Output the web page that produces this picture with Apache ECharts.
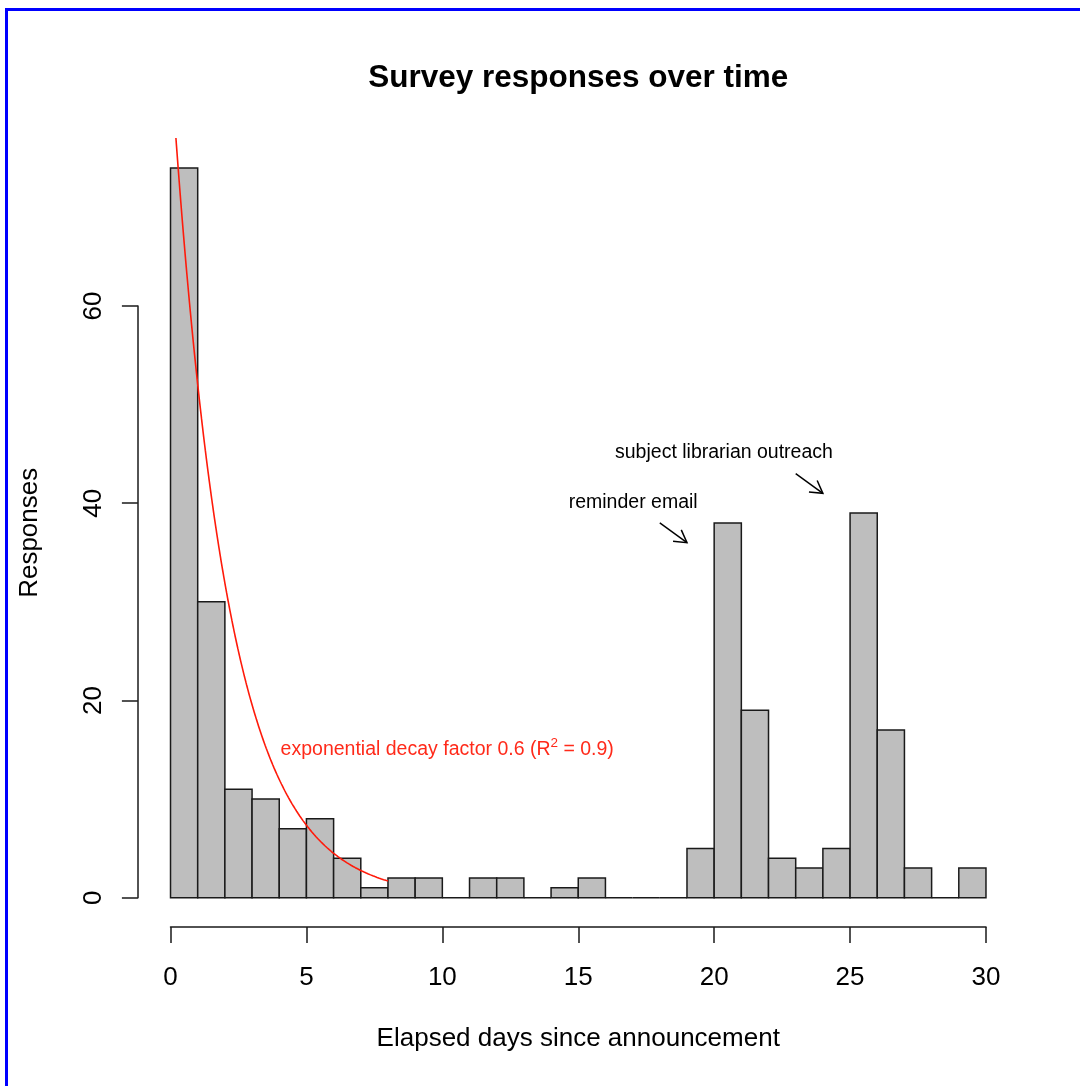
<!DOCTYPE html>
<html>
<head>
<meta charset="utf-8">
<script src="https://cdn.jsdelivr.net/npm/echarts@6/dist/echarts.min.js"></script>
<style>
  html, body { margin: 0; padding: 0; background: #fff; }
  #chart { width: 1080px; height: 1086px; }
</style>
</head>
<body>
<div id="chart"></div>
<script>
// Daily survey responses: one-day bins starting at each day
const binStart = [0, 1, 2, 3, 4, 5, 6, 7, 8, 9, 10, 11, 12, 13, 14, 15, 16, 17, 18, 19, 20, 21, 22, 23, 24, 25, 26, 27, 28, 29];
const counts   = [74, 30, 11, 10, 7, 8, 4, 1, 2, 2, 0, 2, 2, 0, 1, 2, 0, 0, 0, 5, 38, 19, 4, 3, 5, 39, 17, 3, 0, 3];
const binWidth = 1;

// Axis ticks
const xTicks = [0, 5, 10, 15, 20, 25, 30];
const yTicks = [0, 20, 40, 60];

// Exponential fit over the first days after the announcement
const decayFactor = 0.613;
const fitScale = 84.9;
const fitFrom = 0;
const fitTo = 8;
const fitR2 = 0.9;
const fitLabelAt = [4.05, 15.2];

// Event annotations: label position, arrow start, arrow end
const noteTexts = ['reminder email', 'subject librarian outreach'];
const noteLabelAt = [[17.02, 40.1], [20.36, 45.1]];
const noteArrowFrom = [[18, 38], [23, 43]];
const noteArrowTo = [[19, 36], [24, 41]];

const FONT = 'Liberation Sans, Arial, Helvetica, sans-serif';
const INK = '#1a1a1a';

// Plot region in pixels; data ranges padded by 4% on each side
const PLOT = { left: 137.9, right: 1018.6, top: 138.7, bottom: 926.9 };
const W = 1080, H = 1086;
const xLo = xTicks[0], xHi = xTicks[xTicks.length - 1];
const yMaxData = Math.max(...counts);
const xPad = (xHi - xLo) * 0.04, yPad = yMaxData * 0.04;
const xUsr = [xLo - xPad, xHi + xPad];
const yUsr = [0 - yPad, yMaxData + yPad];
const pxX = v => PLOT.left + (v - xUsr[0]) / (xUsr[1] - xUsr[0]) * (PLOT.right - PLOT.left);
const pxY = v => PLOT.bottom - (v - yUsr[0]) / (yUsr[1] - yUsr[0]) * (PLOT.bottom - PLOT.top);

const yTop = yTicks[yTicks.length - 1];

const histData = binStart.map((s, i) => [s, s + binWidth, counts[i]]);

const fitData = [];
for (let k = 0; k <= 400; k++) {
  const x = fitFrom + (fitTo - fitFrom) * k / 400;
  fitData.push([x, fitScale * Math.pow(decayFactor, x)]);
}

const noteData = noteTexts.map((t, i) => [noteLabelAt[i][0], noteLabelAt[i][1], t]);
const arrowData = noteArrowFrom.map((f, i) => [f[0], f[1], noteArrowTo[i][0], noteArrowTo[i][1]]);

const chart = echarts.init(document.getElementById('chart'), null, { renderer: 'canvas' });

chart.setOption({
  backgroundColor: '#fff',
  animation: false,
  textStyle: { fontFamily: FONT },
  grid: [
    // main plotting area
    { left: PLOT.left, top: PLOT.top, width: PLOT.right - PLOT.left, height: PLOT.bottom - PLOT.top,
      containLabel: false, outerBoundsMode: 'none', show: false },
    // x axis drawn only across the tick span
    { left: pxX(xLo), top: PLOT.top, width: pxX(xHi) - pxX(xLo), height: PLOT.bottom - PLOT.top,
      containLabel: false, outerBoundsMode: 'none', show: false },
    // y axis drawn only across the tick span
    { left: PLOT.left, top: pxY(yTop), width: PLOT.right - PLOT.left, height: pxY(0) - pxY(yTop),
      containLabel: false, outerBoundsMode: 'none', show: false }
  ],
  xAxis: [
    { gridIndex: 0, type: 'value', min: xUsr[0], max: xUsr[1], show: false },
    { gridIndex: 1, type: 'value', min: xLo, max: xHi, interval: 5, position: 'bottom',
      axisLine: { show: true, onZero: false, lineStyle: { color: INK, width: 1.5 } },
      axisTick: { show: true, inside: false, length: 16, lineStyle: { color: INK, width: 1.5 } },
      axisLabel: { show: true, margin: 38, fontSize: 26, color: '#000', fontFamily: FONT },
      splitLine: { show: false } },
    { gridIndex: 2, type: 'value', min: xUsr[0], max: xUsr[1], show: false }
  ],
  yAxis: [
    { gridIndex: 0, type: 'value', min: yUsr[0], max: yUsr[1], show: false },
    { gridIndex: 1, type: 'value', min: yUsr[0], max: yUsr[1], show: false },
    { gridIndex: 2, type: 'value', min: 0, max: yTop, interval: 20, position: 'left',
      axisLine: { show: true, onZero: false, lineStyle: { color: INK, width: 1.5 } },
      axisTick: { show: true, inside: false, length: 16, lineStyle: { color: INK, width: 1.5 } },
      axisLabel: { show: true, margin: 31, fontSize: 26, color: '#000', rotate: 90, fontFamily: FONT },
      splitLine: { show: false } }
  ],
  series: [
    {
      type: 'custom',
      name: 'responses',
      xAxisIndex: 0, yAxisIndex: 0,
      data: histData,
      renderItem: function (params, api) {
        const p0 = api.coord([api.value(0), api.value(2)]);
        const p1 = api.coord([api.value(1), 0]);
        return {
          type: 'rect',
          shape: { x: p0[0], y: p0[1], width: p1[0] - p0[0], height: p1[1] - p0[1] },
          style: { fill: '#bebebe', stroke: INK, lineWidth: 1.5 }
        };
      },
      z: 2
    },
    {
      type: 'line',
      name: 'fit',
      xAxisIndex: 0, yAxisIndex: 0,
      data: fitData,
      showSymbol: false,
      symbol: 'none',
      clip: true,
      lineStyle: { color: '#ff1a0a', width: 1.6 },
      z: 3
    },
    {
      type: 'custom',
      name: 'fitLabel',
      xAxisIndex: 0, yAxisIndex: 0,
      data: [[fitLabelAt[0], fitLabelAt[1]]],
      renderItem: function (params, api) {
        const p = api.coord([api.value(0), api.value(1)]);
        return {
          type: 'text',
          x: p[0], y: p[1],
          style: {
            text: '{a|exponential decay factor ' + decayFactor.toFixed(1) + ' (R}{s|2}{a| = ' + fitR2.toFixed(1) + ')}',
            textAlign: 'left',
            textVerticalAlign: 'middle',
            rich: {
              a: { fontFamily: FONT, fontSize: 19.5, fill: '#ff2a1a', lineHeight: 24, verticalAlign: 'bottom' },
              s: { fontFamily: FONT, fontSize: 13.5, fill: '#ff2a1a', lineHeight: 14, verticalAlign: 'top' }
            }
          }
        };
      },
      z: 4
    },
    {
      type: 'custom',
      name: 'notes',
      xAxisIndex: 0, yAxisIndex: 0,
      data: noteData,
      renderItem: function (params, api) {
        const p = api.coord([api.value(0), api.value(1)]);
        return {
          type: 'text',
          x: p[0], y: p[1],
          style: {
            text: noteTexts[params.dataIndex],
            fontFamily: FONT, fontSize: 19.5, fill: '#000',
            textAlign: 'center', textVerticalAlign: 'middle'
          }
        };
      },
      z: 4
    },
    {
      type: 'custom',
      name: 'arrows',
      xAxisIndex: 0, yAxisIndex: 0,
      data: arrowData,
      renderItem: function (params, api) {
        const a = api.coord([api.value(0), api.value(1)]);
        const b = api.coord([api.value(2), api.value(3)]);
        const ang = Math.atan2(b[1] - a[1], b[0] - a[0]);
        const L = 14, spread = Math.PI / 6;
        const h1 = [b[0] - L * Math.cos(ang - spread), b[1] - L * Math.sin(ang - spread)];
        const h2 = [b[0] - L * Math.cos(ang + spread), b[1] - L * Math.sin(ang + spread)];
        const st = { stroke: '#000', lineWidth: 1.5, fill: null };
        return {
          type: 'group',
          children: [
            { type: 'line', shape: { x1: a[0], y1: a[1], x2: b[0], y2: b[1] }, style: st },
            { type: 'polyline', shape: { points: [h1, b, h2] }, style: st }
          ]
        };
      },
      z: 4
    }
  ],
  graphic: [
    // chart title
    { type: 'text', x: (PLOT.left + PLOT.right) / 2, y: 78,
      style: { text: 'Survey responses over time', fontFamily: FONT, fontSize: 31.5, fontWeight: 'bold',
               fill: '#000', textAlign: 'center', textVerticalAlign: 'middle' } },
    // axis titles
    { type: 'text', x: (PLOT.left + PLOT.right) / 2, y: 1039,
      style: { text: 'Elapsed days since announcement', fontFamily: FONT, fontSize: 26, fill: '#000',
               textAlign: 'center', textVerticalAlign: 'middle' } },
    { type: 'text', x: 30, y: (PLOT.top + PLOT.bottom) / 2, rotation: Math.PI / 2,
      style: { text: 'Responses', fontFamily: FONT, fontSize: 26, fill: '#000',
               textAlign: 'center', textVerticalAlign: 'middle' } },
    // frame edges
    { type: 'rect', shape: { x: 5, y: 8, width: 3, height: H - 8 }, style: { fill: '#0000ff' }, z: 10 },
    { type: 'rect', shape: { x: 5, y: 8, width: W - 5, height: 3 }, style: { fill: '#0000ff' }, z: 10 }
  ]
});
</script>
</body>
</html>
